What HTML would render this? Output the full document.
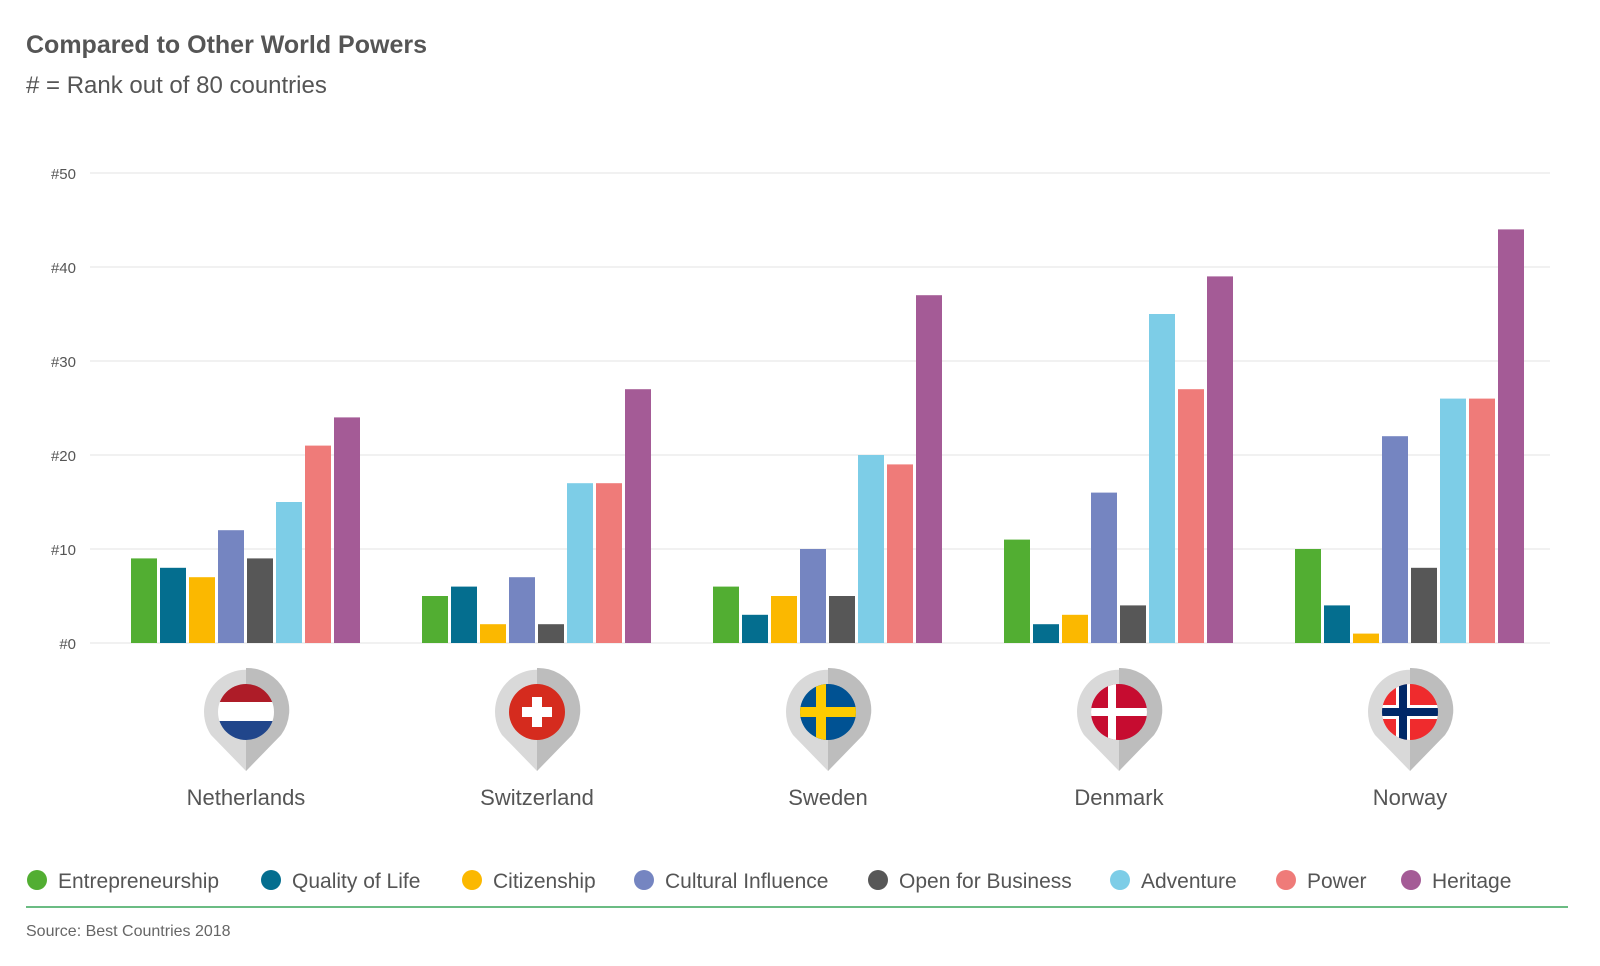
<!DOCTYPE html>
<html><head><meta charset="utf-8"><style>
body{margin:0;background:#fff;font-family:"Liberation Sans",sans-serif;}
svg{display:block}
</style></head><body>
<svg id="chart" width="1600" height="966" xmlns="http://www.w3.org/2000/svg">
<text x="26" y="53" font-size="25" font-weight="bold" fill="#555">Compared to Other World Powers</text>
<text x="26" y="93" font-size="24" fill="#555"># = Rank out of 80 countries</text>
<line x1="26" y1="907" x2="1568" y2="907" stroke="#3aa65a" stroke-width="1.5"/>
<text x="26" y="936" font-size="16" fill="#666">Source: Best Countries 2018</text>
<g id="grid"></g><g id="bars"></g><g id="pins"></g><g id="legend"></g>
</svg>
<script>
const countries=["Netherlands","Switzerland","Sweden","Denmark","Norway"];
const metrics=["Entrepreneurship","Quality of Life","Citizenship","Cultural Influence","Open for Business","Adventure","Power","Heritage"];
const colors=["#52ae32","#046e8f","#fbb800","#7585c1","#575757","#7dcde7","#ef7b79","#a45b96"];
const entrepreneurship=[9,5,6,11,10];
const qualityOfLife=[8,6,3,2,4];
const citizenship=[7,2,5,3,1];
const culturalInfluence=[12,7,10,16,22];
const openForBusiness=[9,2,5,4,8];
const adventure=[15,17,20,35,26];
const power=[21,17,19,27,26];
const heritage=[24,27,37,39,44];
const series=[entrepreneurship,qualityOfLife,citizenship,culturalInfluence,openForBusiness,adventure,power,heritage];
const ticks=[0,10,20,30,40,50];
const tickLabels=["#0","#10","#20","#30","#40","#50"];
const NS="http://www.w3.org/2000/svg";
function el(t,a,p){const e=document.createElementNS(NS,t);for(const k in a)e.setAttribute(k,a[k]);p.appendChild(e);return e;}
const y=v=>643-v*9.4;
const gx=i=>246+i*291;
const grid=document.getElementById('grid');
ticks.forEach((t,i)=>{
 const l=el('line',{x1:90,x2:1550,y1:y(t),y2:y(t),stroke:"#e3e3e3","stroke-width":1},grid);
 
 
 const tx=el('text',{x:76,y:y(t)+6,"text-anchor":"end","font-size":15,fill:"#555"},grid);
 tx.textContent=tickLabels[i];
 
 
});
const bars=document.getElementById('bars');
countries.forEach((c,i)=>{
 series.forEach((s,j)=>{
  const r=el('rect',{x:gx(i)-115+j*29,y:y(s[i]),width:26,height:s[i]*9.4,fill:colors[j]},bars);
  
  
 });
});
const pins=document.getElementById('pins');
const flags=[
 cx=>`<rect x="${cx-30}" y="682" width="60" height="20" fill="#ae1c28"/><rect x="${cx-30}" y="702" width="60" height="19" fill="#fff"/><rect x="${cx-30}" y="721" width="60" height="20" fill="#21468b"/>`,
 cx=>`<rect x="${cx-30}" y="682" width="60" height="60" fill="#d52b1e"/><rect x="${cx-5}" y="697" width="10" height="30" fill="#fff"/><rect x="${cx-15}" y="707" width="30" height="10" fill="#fff"/>`,
 cx=>`<rect x="${cx-30}" y="682" width="60" height="60" fill="#005293"/><rect x="${cx-12}" y="682" width="10" height="60" fill="#fecb00"/><rect x="${cx-30}" y="707" width="60" height="10" fill="#fecb00"/>`,
 cx=>`<rect x="${cx-30}" y="682" width="60" height="60" fill="#c60c30"/><rect x="${cx-11}" y="682" width="8" height="60" fill="#fff"/><rect x="${cx-30}" y="708" width="60" height="8" fill="#fff"/>`,
 cx=>`<rect x="${cx-30}" y="682" width="60" height="60" fill="#ef2b2d"/><rect x="${cx-14}" y="682" width="14" height="60" fill="#fff"/><rect x="${cx-30}" y="705" width="60" height="14" fill="#fff"/><rect x="${cx-11}" y="682" width="8" height="60" fill="#002868"/><rect x="${cx-30}" y="708" width="60" height="8" fill="#002868"/>`
];
countries.forEach((c,i)=>{
 const cx=gx(i);
 const g=el('g',{},pins);
 
 
 g.innerHTML=`<clipPath id="cp${i}"><circle cx="${cx}" cy="712" r="28"/></clipPath>
 <path d="M${cx-35} 735 A42 42 0 1 1 ${cx+35} 735 L${cx} 771 Z" fill="#d9d9d9"/>
 <path d="M${cx} 668 A42 42 0 0 1 ${cx+35} 735 L${cx} 771 Z" fill="#bdbdbd"/>
 <g clip-path="url(#cp${i})">${flags[i](cx)}</g>`;
 const t=el('text',{x:cx,y:805,"text-anchor":"middle","font-size":22,fill:"#555"},pins);
 t.textContent=c;
 
 
});
const legend=document.getElementById('legend');
const lx=[37,271,472,644,878,1120,1286,1411];
metrics.forEach((m,j)=>{
 const g=el('g',{},legend);
 
 
 el('circle',{cx:lx[j],cy:880,r:10,fill:colors[j]},g);
 const t=el('text',{x:lx[j]+21,y:888,"font-size":21,fill:"#555"},g);
 t.textContent=m;
});
</script>
</body></html>
